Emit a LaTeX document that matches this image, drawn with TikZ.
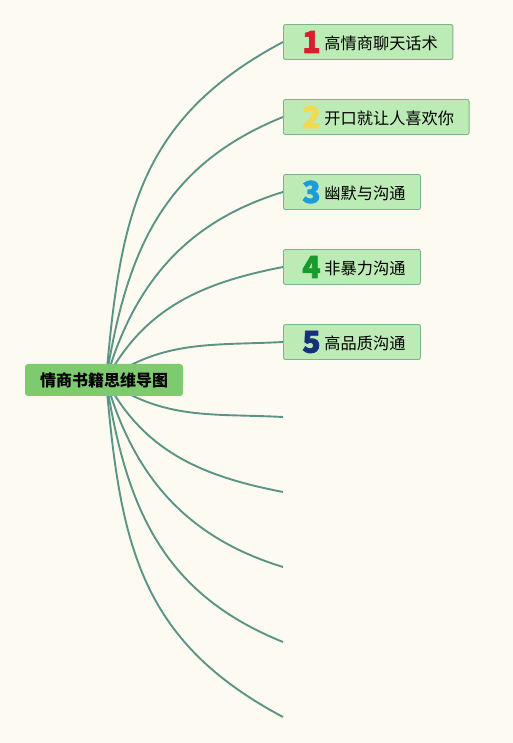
\documentclass[tikz,border=0pt]{standalone}
\usepackage{fontspec}
\setmainfont{Noto Sans CJK SC}
\newfontfamily\digitfont{Noto Sans CJK SC}[FakeBold=2.5]
\usetikzlibrary{backgrounds}
\definecolor{bgc}{HTML}{FDFBF1}
\definecolor{rootc}{HTML}{7ECB6F}
\definecolor{boxc}{HTML}{BDEBB6}
\definecolor{boxb}{HTML}{7DB38E}
\definecolor{linec}{HTML}{5B9485}
\definecolor{n1}{HTML}{D7202F}
\definecolor{n2}{HTML}{F4D84E}
\definecolor{n3}{HTML}{1E9BDB}
\definecolor{n4}{HTML}{1A9A2A}
\definecolor{n5}{HTML}{17307A}
\tikzset{
  rootbox/.style={fill=rootc, rounded corners=3pt, minimum height=32pt, minimum width=158pt, inner sep=0pt, font=\fontsize{16}{18}\selectfont\bfseries},
  topic/.style={fill=boxc, draw=boxb, line width=0.9pt, rounded corners=2pt, minimum height=35pt, inner xsep=0pt, inner ysep=0pt, anchor=west, font=\fontsize{16.2}{18}\selectfont},
  conn/.style={draw=linec, line width=1.9pt},
}
\newcommand{\num}[2]{\hspace*{19pt}\makebox[18pt][c]{\raisebox{-2pt}{\digitfont\bfseries\fontsize{30}{30}\selectfont\color{#1}#2}}\hspace*{4pt}}
\newcommand{\ttl}[1]{\raisebox{1.5pt}{#1}\hspace*{15pt}}
\begin{document}
\begin{tikzpicture}[x=1pt,y=1pt]
\useasboundingbox (0,0) rectangle (513,743);
\node[rootbox] (root) at (104,363) {\raisebox{1pt}{情商书籍思维导图}};
\node[topic] (b1) at (283,701) {\num{n1}{1}\ttl{高情商聊天话术}};
\node[topic] (b2) at (283,626) {\num{n2}{2}\ttl{开口就让人喜欢你}};
\node[topic] (b3) at (283,551) {\num{n3}{3}\ttl{幽默与沟通}};
\node[topic] (b4) at (283,476) {\num{n4}{4}\ttl{非暴力沟通}};
\node[topic] (b5) at (283,401) {\num{n5}{5}\ttl{高品质沟通}};
\coordinate (e6) at (283,326);
\coordinate (e7) at (283,251);
\coordinate (e8) at (283,176);
\coordinate (e9) at (283,101);
\coordinate (e10) at (283,26);
\begin{scope}[on background layer]
\fill[bgc] (0,0) rectangle (513,743);
\path (root.center) ++(2,0) coordinate (o);
\path[conn] (o) to[out=85,in=208,looseness=1.1] (b1.west);
\path[conn] (o) to[out=81,in=202,looseness=1.05] (b2.west);
\path[conn] (o) to[out=74,in=197] (b3.west);
\path[conn] (o) to[out=62,in=191] (b4.west);
\path[conn] (o) to[out=35,in=183] (b5.west);
\path[conn] (o) to[out=-35,in=177] (e6);
\path[conn] (o) to[out=-62,in=169] (e7);
\path[conn] (o) to[out=-74,in=163] (e8);
\path[conn] (o) to[out=-81,in=158,looseness=1.05] (e9);
\path[conn] (o) to[out=-85,in=152,looseness=1.1] (e10);
\end{scope}
\end{tikzpicture}
\end{document}
